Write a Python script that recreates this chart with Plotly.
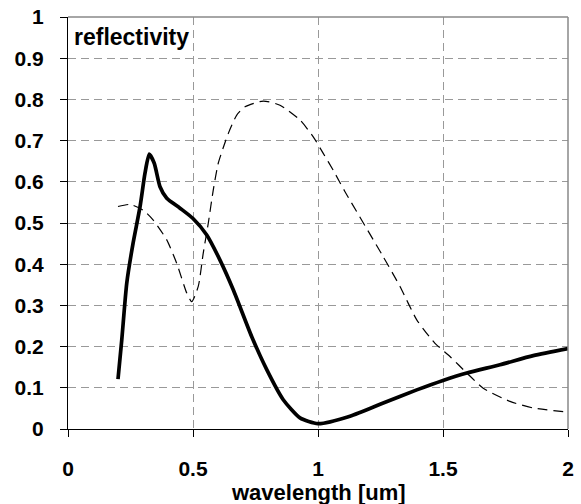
import plotly.graph_objects as go

# thick solid curve
solid_x = [0.2, 0.215, 0.235, 0.26, 0.288, 0.308, 0.325, 0.345, 0.368, 0.395, 0.448, 0.5,
           0.555, 0.608, 0.661, 0.735, 0.795, 0.861, 0.928, 1.0, 1.128, 1.261, 1.395,
           1.5, 1.595, 1.728, 1.861, 2.0]
solid_y = [0.121, 0.216, 0.354, 0.45, 0.539, 0.621, 0.667, 0.645, 0.588, 0.56, 0.536, 0.511,
           0.471, 0.41, 0.338, 0.224, 0.144, 0.071, 0.027, 0.013, 0.031, 0.063, 0.095,
           0.118, 0.136, 0.156, 0.178, 0.195]

# thin dashed curve
dash_x = [0.2, 0.248, 0.301, 0.341, 0.395, 0.435, 0.475, 0.495, 0.521, 0.541, 0.561, 0.581,
          0.601, 0.625, 0.641, 0.675, 0.708, 0.781, 0.848, 0.928, 0.981, 1.021, 1.061,
          1.108, 1.261, 1.328, 1.395, 1.468, 1.528, 1.595, 1.661, 1.768, 1.861, 2.0]
dash_y = [0.54, 0.545, 0.531, 0.507, 0.459, 0.402, 0.33, 0.309, 0.346, 0.427, 0.499, 0.58,
          0.645, 0.69, 0.717, 0.762, 0.782, 0.796, 0.786, 0.75, 0.709, 0.669, 0.628,
          0.576, 0.418, 0.346, 0.265, 0.208, 0.176, 0.136, 0.099, 0.067, 0.051, 0.041]

x_ticks = [0, 0.5, 1, 1.5, 2]
x_ticklabels = ["0", "0.5", "1", "1.5", "2"]
y_ticks = [0, 0.1, 0.2, 0.3, 0.4, 0.5, 0.6, 0.7, 0.8, 0.9, 1]
y_ticklabels = ["0", "0.1", "0.2", "0.3", "0.4", "0.5", "0.6", "0.7", "0.8", "0.9", "1"]

FONT = "Arial, Liberation Sans, sans-serif"

fig = go.Figure()
fig.add_trace(go.Scatter(x=dash_x, y=dash_y, mode="lines",
                         line=dict(color="black", width=1.2, dash="10px,6px", shape="spline", smoothing=0.6),
                         showlegend=False))
fig.add_trace(go.Scatter(x=solid_x, y=solid_y, mode="lines",
                         line=dict(color="black", width=3.7, shape="spline", smoothing=0.6),
                         showlegend=False))

fig.update_layout(
    width=581, height=504,
    margin=dict(l=68, r=13, t=17, b=75),
    plot_bgcolor="white", paper_bgcolor="white",
    font=dict(family=FONT, size=21, color="black"),
    xaxis=dict(range=[0, 2], tickvals=x_ticks, ticktext=x_ticklabels, automargin=False,
               showline=True, linecolor="black", linewidth=1.2,
               ticks="outside", ticklen=7, tickcolor="black", tickwidth=1,
               showgrid=True, gridcolor="#999999", gridwidth=1, griddash="8px,5px",
               zeroline=False, ticklabelstandoff=14,
               tickfont=dict(family=FONT, size=21, color="black", weight="bold")),
    yaxis=dict(range=[0, 1], tickvals=y_ticks, ticktext=y_ticklabels, automargin=False,
               showline=True, linecolor="black", linewidth=1.2,
               ticks="outside", ticklen=7, tickcolor="black", tickwidth=1,
               showgrid=True, gridcolor="#999999", gridwidth=1, griddash="8px,5px",
               zeroline=False, ticklabelstandoff=12,
               tickfont=dict(family=FONT, size=21, color="black", weight="bold")),
    shapes=[
        dict(type="line", xref="paper", yref="paper", x0=0, x1=1, y0=1, y1=1,
             line=dict(color="#888888", width=1.5)),
        dict(type="line", xref="paper", yref="paper", x0=1, x1=1, y0=0, y1=1,
             line=dict(color="#888888", width=1.5)),
    ],
    annotations=[
        dict(text="<b>reflectivity</b>", xref="paper", yref="paper",
             x=0.008, y=0.952, xanchor="left", yanchor="middle", showarrow=False,
             font=dict(family=FONT, size=23, color="black")),
        dict(text="<b>wavelength [um]</b>", xref="paper", yref="paper",
             x=0.5, y=-0.155, xanchor="center", yanchor="middle", showarrow=False,
             font=dict(family=FONT, size=22, color="black")),
    ],
)

fig.write_html("out.html")
